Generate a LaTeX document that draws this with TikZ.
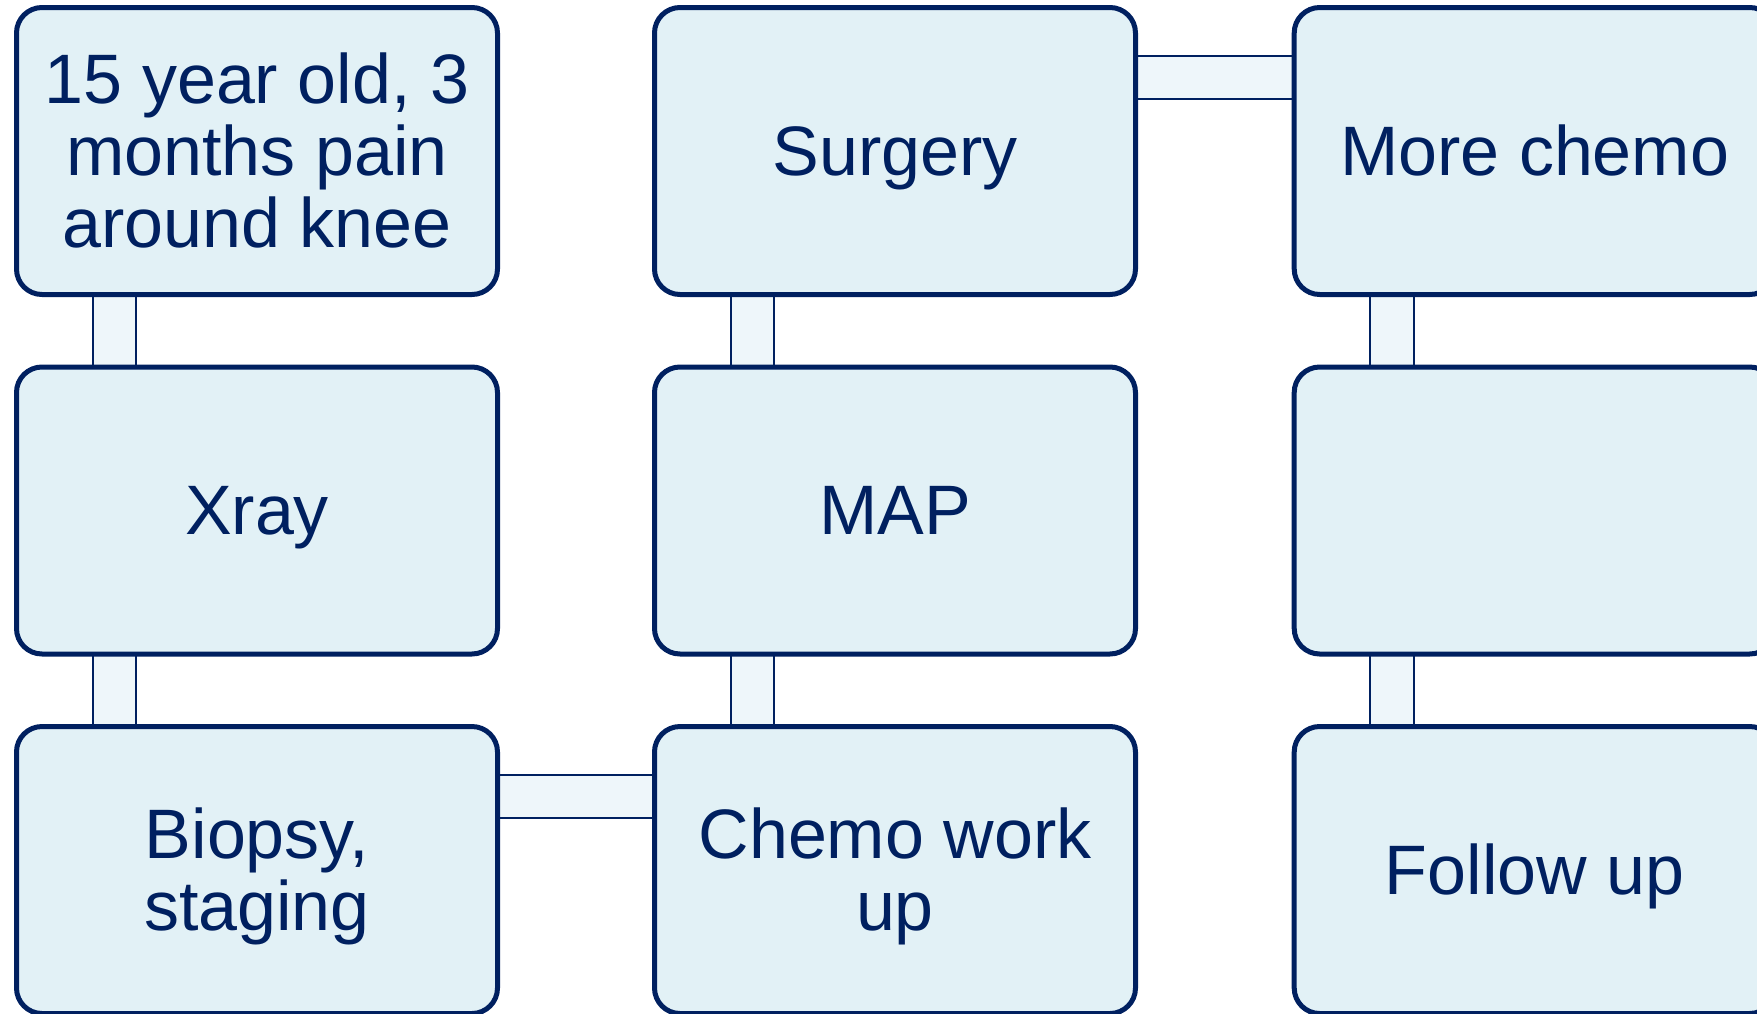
\documentclass[tikz,border=0pt]{standalone}
\usepackage{fontspec}
\setmainfont{Liberation Sans}
\usetikzlibrary{backgrounds}
\definecolor{navy}{HTML}{002060}
\definecolor{boxfill}{HTML}{E2F1F6}
\definecolor{linkfill}{HTML}{EEF6FA}
\newcommand\sttop{\rule{0pt}{0.905em}}
\newcommand\stbot{\rule[-0.212em]{0pt}{0.212em}}
\begin{document}
\begin{tikzpicture}[x=0.5pt,y=-0.5pt,
  stepbox/.style={draw=navy, line width=2.5pt, fill=boxfill, rounded corners=12.75pt,
    minimum width=240.5pt, minimum height=143.5pt, inner sep=0pt, align=center,
    text=navy, font=\fontsize{35}{36}\selectfont},
  link/.style={draw=navy, line width=1pt, fill=linkfill}]
\useasboundingbox (0,0) rectangle (1757,1013);
\clip (0,0) rectangle (1757,1013);
% column 1
\node[stepbox] (a) at (257,151) {\sttop 15 year old, 3\\months pain\\around knee\stbot};
\node[stepbox] (b) at (257,510.5) {\sttop Xray\stbot};
\node[stepbox] (c) at (257,870) {\sttop Biopsy,\\staging\stbot};
% column 2
\node[stepbox] (f) at (895,151) {\sttop Surgery\stbot};
\node[stepbox] (e) at (895,510.5) {\sttop MAP\stbot};
\node[stepbox] (d) at (895,870) {\sttop Chemo work\\up\stbot};
% column 3
\node[stepbox] (g) at (1534.7,151) {\sttop More chemo\stbot};
\node[stepbox] (h) at (1534.7,510.5) {};
\node[stepbox] (i) at (1534.7,870) {\sttop Follow up\stbot};
\begin{scope}[on background layer]
  \draw[link] ([xshift=39.35pt,yshift=3pt]a.south west) rectangle ([xshift=61pt,yshift=-3pt]b.north west);
  \draw[link] ([xshift=39.35pt,yshift=3pt]b.south west) rectangle ([xshift=61pt,yshift=-3pt]c.north west);
  \draw[link] ([xshift=-3pt,yshift=-25.35pt]c.north east) rectangle ([xshift=3pt,yshift=-47pt]d.north west);
  \draw[link] ([xshift=39.35pt,yshift=3pt]e.south west) rectangle ([xshift=61pt,yshift=-3pt]d.north west);
  \draw[link] ([xshift=39.35pt,yshift=3pt]f.south west) rectangle ([xshift=61pt,yshift=-3pt]e.north west);
  \draw[link] ([xshift=-3pt,yshift=-25.35pt]f.north east) rectangle ([xshift=3pt,yshift=-47pt]g.north west);
  \draw[link] ([xshift=39.35pt,yshift=3pt]g.south west) rectangle ([xshift=61pt,yshift=-3pt]h.north west);
  \draw[link] ([xshift=39.35pt,yshift=3pt]h.south west) rectangle ([xshift=61pt,yshift=-3pt]i.north west);
\end{scope}
\end{tikzpicture}
\end{document}
